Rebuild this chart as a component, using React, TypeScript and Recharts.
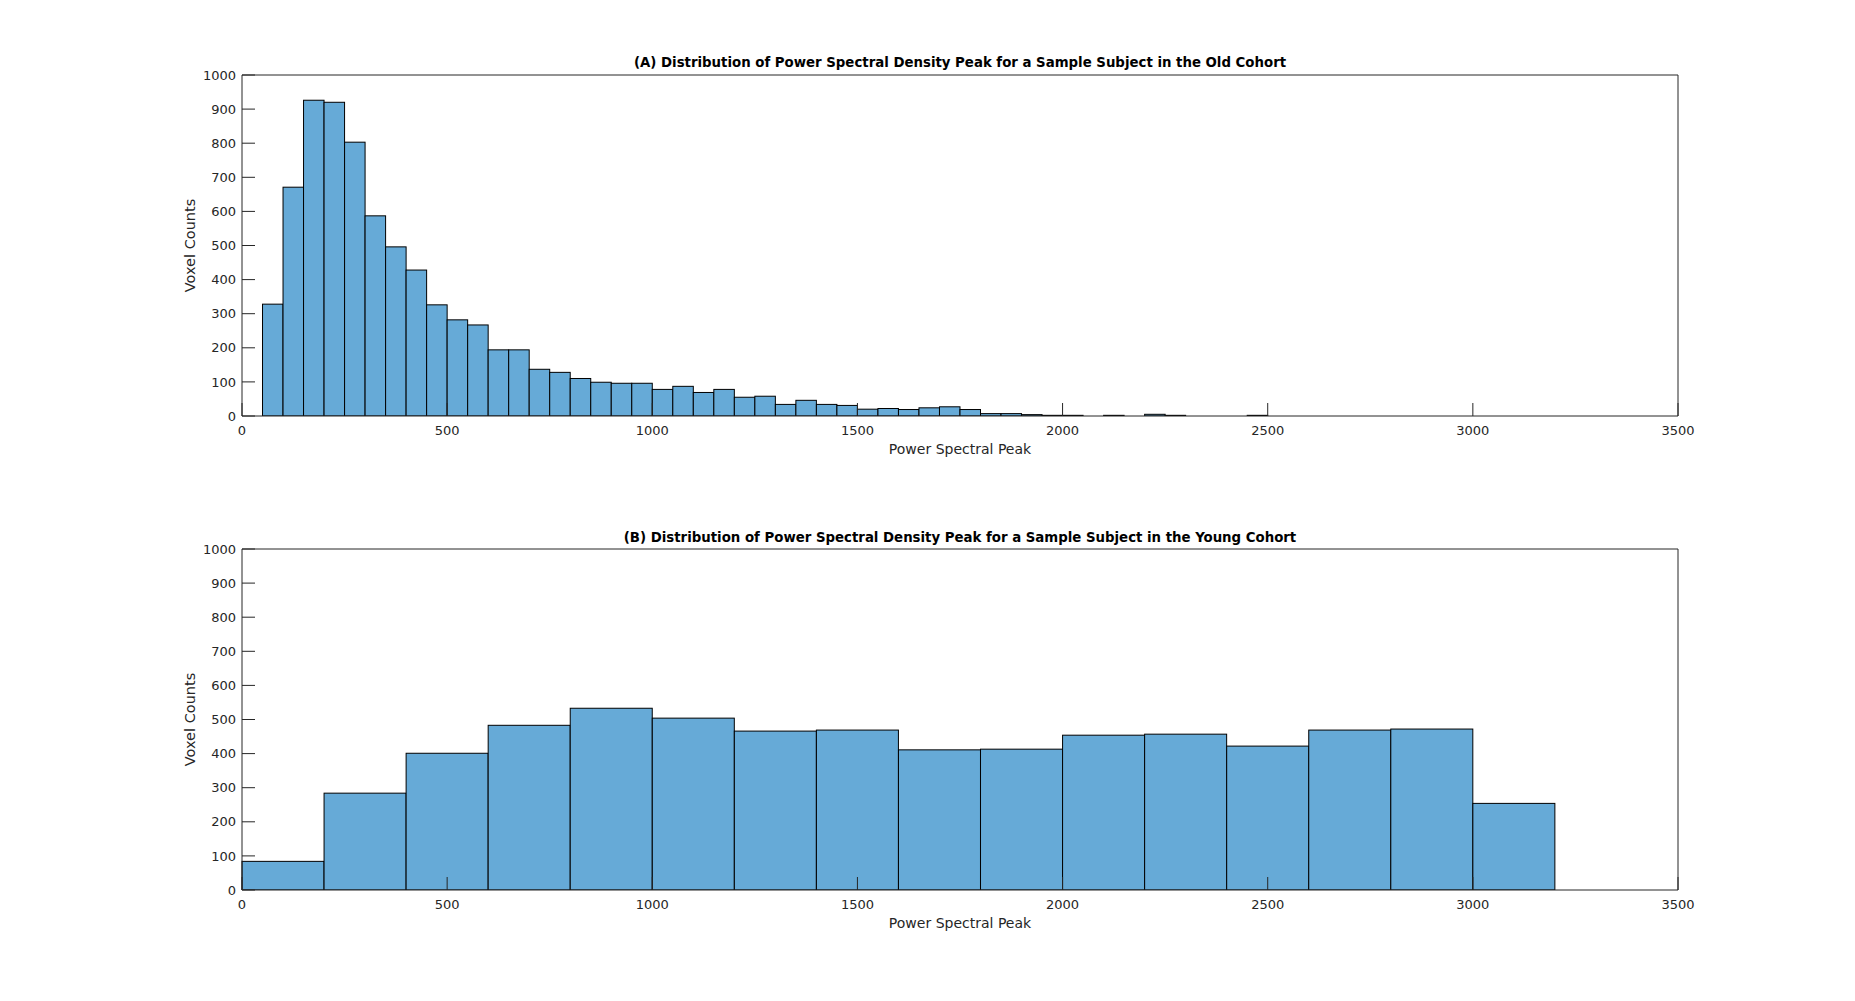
import React from 'react';
import { BarChart, Bar, XAxis, YAxis } from 'recharts';

// ---------- data ----------
const oldTitle = '(A) Distribution of Power Spectral Density Peak for a Sample Subject in the Old Cohort';
const youngTitle = '(B) Distribution of Power Spectral Density Peak for a Sample Subject in the Young Cohort';
const xLabel = 'Power Spectral Peak';
const yLabel = 'Voxel Counts';

const oldBinStart = 50;
const oldBinWidth = 50;
const oldCounts = [
  328, 671, 926, 920, 803, 587, 496, 428, 326, 282, 267, 194, 194, 137, 128, 110, 99, 96, 96, 78,
  87, 69, 78, 55, 58, 34, 46, 34, 31, 20, 22, 19, 24, 27, 19, 7, 7, 4, 2, 2,
  0, 2, 0, 5, 2, 0, 0, 0, 2,
];

const youngBinStart = 0;
const youngBinWidth = 200;
const youngCounts = [84, 284, 401, 483, 533, 504, 466, 469, 411, 413, 454, 457, 422, 469, 472, 254];

const xTicks = [0, 500, 1000, 1500, 2000, 2500, 3000, 3500];
const yTicks = [0, 100, 200, 300, 400, 500, 600, 700, 800, 900, 1000];
const xMax = 3500;
const yMax = 1000;
const slotWidth = 50; // category slot size used to place histogram bins on a band scale

// ---------- table builder ----------
function buildSlots(start: number, width: number, counts: number[]) {
  const rows: { slot: number; count: number | null }[] = [];
  for (let s = 0; s < xMax; s += slotWidth) rows.push({ slot: s, count: null });
  counts.forEach((c, i) => {
    const idx = Math.round((start + i * width) / slotWidth);
    if (rows[idx]) rows[idx].count = c;
  });
  return rows;
}

const oldData = buildSlots(oldBinStart, oldBinWidth, oldCounts);
const youngData = buildSlots(youngBinStart, youngBinWidth, youngCounts);

// ---------- styles ----------
const W = 1839;
const H = 480;
const PLOT_W = 1436;
const AX = '#262626';
const FILL = '#66AAD7';
const tickFont = { fill: AX, fontSize: 13, fontFamily: 'DejaVu Sans' };

function makeShape(mult: number) {
  return (props: any) => {
    const { x, y, width, height, payload } = props;
    if (payload == null || payload.count == null) return <g />;
    return (
      <rect
        x={x}
        y={y}
        width={width * mult}
        height={Math.max(height, 0)}
        fill={FILL}
        stroke="#000"
        strokeWidth={1}
      />
    );
  };
}

function Histogram({
  data,
  binWidth,
  marginTop,
  marginBottom,
}: {
  data: { slot: number; count: number | null }[];
  binWidth: number;
  marginTop: number;
  marginBottom: number;
}) {
  const slots = data.length;
  const band = PLOT_W / slots - 0.01;
  return (
    <BarChart
      width={W}
      height={H}
      data={data}
      margin={{ top: marginTop - 1, right: 168, left: 130, bottom: marginBottom }}
      barCategoryGap={0}
      barGap={0}
    >
      <Bar
        dataKey="count"
        xAxisId="cat"
        yAxisId="l"
        barSize={band}
        isAnimationActive={false}
        shape={makeShape(binWidth / slotWidth)}
      />
      <XAxis xAxisId="cat" dataKey="slot" type="category" hide height={0} padding={{ left: 0, right: 0 }} />
      <XAxis
        xAxisId="num"
        dataKey="slot"
        type="number"
        domain={[0, xMax]}
        ticks={xTicks}
        interval={0}
        allowDataOverflow
        height={66}
        tickSize={-13}
        tickMargin={23}
        tick={tickFont}
        stroke={AX}
        axisLine={{ stroke: AX }}
        tickLine={{ stroke: AX }}
        label={{ value: xLabel, position: 'center', fill: AX, fontSize: 14, fontFamily: 'DejaVu Sans' }}
      />
      <XAxis
        xAxisId="top"
        dataKey="slot"
        orientation="top"
        type="number"
        domain={[0, xMax]}
        ticks={xTicks}
        interval={0}
        allowDataOverflow
        height={1}
        tickSize={-13}
        tick={false}
        stroke={AX}
        axisLine={{ stroke: AX }}
        tickLine={{ stroke: AX }}
      />
      <YAxis
        yAxisId="l"
        type="number"
        domain={[0, yMax]}
        ticks={yTicks}
        interval={0}
        allowDataOverflow
        width={104}
        tickSize={-13}
        tickMargin={19}
        tick={tickFont}
        stroke={AX}
        axisLine={{ stroke: AX }}
        tickLine={{ stroke: AX }}
        label={{ value: yLabel, angle: -90, position: 'center', fill: AX, fontSize: 14.5, fontFamily: 'DejaVu Sans' }}
      />
      <YAxis
        yAxisId="r"
        dataKey="count"
        orientation="right"
        type="number"
        domain={[0, yMax]}
        ticks={yTicks}
        interval={0}
        allowDataOverflow
        width={1}
        tickSize={-13}
        tick={false}
        stroke={AX}
        axisLine={{ stroke: AX }}
        tickLine={{ stroke: AX }}
      />
    </BarChart>
  );
}

const titleStyle: React.CSSProperties = {
  position: 'absolute',
  left: 952 - 600,
  width: 1200,
  textAlign: 'center',
  fontFamily: "'DejaVu Sans Condensed', 'DejaVu Sans', sans-serif",
  fontStretch: 'condensed',
  fontWeight: 'bold',
  fontSize: 14.8,
  lineHeight: '20px',
  color: '#000',
  whiteSpace: 'nowrap',
};

export default function App() {
  return (
    <div style={{ position: 'relative', width: W, height: 2 * H, background: '#fff' }}>
      <div style={{ position: 'absolute', left: 0, top: 0 }}>
        <Histogram data={oldData} binWidth={oldBinWidth} marginTop={67} marginBottom={6} />
      </div>
      <div style={{ position: 'absolute', left: 0, top: H }}>
        <Histogram data={youngData} binWidth={youngBinWidth} marginTop={61} marginBottom={12} />
      </div>
      <div style={{ ...titleStyle, top: 44 }}>{oldTitle}</div>
      <div style={{ ...titleStyle, top: 519 }}>{youngTitle}</div>
    </div>
  );
}
